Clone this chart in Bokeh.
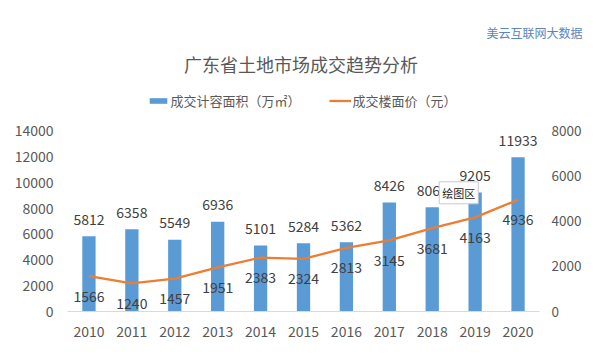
from bokeh.plotting import figure
from bokeh.models import (ColumnDataSource, Range1d, LinearAxis, FixedTicker,
                          Label, Legend, LegendItem, Title)
from bokeh.core.properties import value
from bokeh.embed import file_html
from bokeh.resources import INLINE

# ---- data ----
years = ["2010", "2011", "2012", "2013", "2014", "2015", "2016", "2017", "2018", "2019", "2020"]
area = [5812, 6358, 5549, 6936, 5101, 5284, 5362, 8426, 8060, 9205, 11933]
price = [1566, 1240, 1457, 1951, 2383, 2324, 2813, 3145, 3681, 4163, 4936]
left_ticks = [0, 2000, 4000, 6000, 8000, 10000, 12000, 14000]
right_ticks = [0, 2000, 4000, 6000, 8000]
title_text = "广东省土地市场成交趋势分析"
area_name = "成交计容面积（万㎡）"
price_name = "成交楼面价（元）"
watermark = "美云互联网大数据"
tooltip_text = "绘图区"

FONT = "Noto Sans CJK SC"
BLUE = "#5B9BD5"
ORANGE = "#ED7D31"
GREY = "#595959"
DARK = "#404040"

# layout: plot frame spans from y=FRAME_TOP to y=311; value axes occupy the lower 181 px
FRAME_TOP = 44
AXIS_PX = 181
FRAME_PX = 311 - FRAME_TOP
left_end = left_ticks[-1] * FRAME_PX / AXIS_PX
right_end = right_ticks[-1] * FRAME_PX / AXIS_PX

src = ColumnDataSource(dict(
    year=years, area=area, price=price,
    area_txt=[str(v) for v in area], price_txt=[str(v) for v in price]))

p = figure(width=584, height=341, x_range=years, y_range=Range1d(0, left_end),
           output_backend="svg", toolbar_location=None,
           min_border_left=67, min_border_right=44, min_border_top=FRAME_TOP,
           min_border_bottom=30)
p.extra_y_ranges = {"right": Range1d(0, right_end)}
p.outline_line_color = None
p.background_fill_color = "white"
p.border_fill_color = "white"
p.xgrid.grid_line_color = None
p.ygrid.grid_line_color = None

bars = p.vbar(x="year", top="area", width=0.31, source=src, color=BLUE, line_color=None)
line = p.line(x="year", y="price", source=src, color=ORANGE, line_width=2.3,
              y_range_name="right")

p.text(x="year", y="area", text="area_txt", source=src, y_offset=-17,
       text_align="center", text_baseline="middle", text_font=value(FONT),
       text_font_size="14px", text_color=DARK)
p.text(x="year", y="price", text="price_txt", source=src, y_offset=20,
       text_align="center", text_baseline="middle", text_font=value(FONT),
       text_font_size="14px", text_color=DARK, y_range_name="right")

# axes
for ax in [p.xaxis[0], p.yaxis[0]]:
    ax.major_tick_in = 0
    ax.major_tick_out = 0
    ax.minor_tick_in = 0
    ax.minor_tick_out = 0
    ax.major_label_text_font = FONT
    ax.major_label_text_font_size = "14px"
    ax.major_label_text_color = GREY
p.xaxis[0].axis_line_color = "#D9D9D9"
p.xaxis[0].major_label_standoff = 14
p.yaxis[0].axis_line_color = None
p.yaxis[0].ticker = FixedTicker(ticks=left_ticks)
p.yaxis[0].major_label_standoff = 14

rax = LinearAxis(y_range_name="right", ticker=FixedTicker(ticks=right_ticks))
rax.axis_line_color = None
rax.major_tick_in = 0
rax.major_tick_out = 0
rax.minor_tick_in = 0
rax.minor_tick_out = 0
rax.major_label_text_font = FONT
rax.major_label_text_font_size = "13.5px"
rax.major_label_text_color = GREY
rax.major_label_standoff = 12
p.add_layout(rax, "right")

# watermark in the top panel (right aligned, pushed beyond the frame edge)
p.add_layout(Title(text=watermark, align="right", offset=-43, standoff=8,
                   text_font=FONT, text_font_size="12px", text_font_style="normal",
                   text_color="#5A86BC"), "above")

# title (screen units measured from the frame's bottom-left)
p.add_layout(Label(x=233.5, y=248, x_units="screen", y_units="screen", text=title_text,
                   text_align="center", text_baseline="middle", text_font=FONT,
                   text_font_size="18px", text_color=GREY))

# legend
legend = Legend(items=[LegendItem(label=area_name, renderers=[bars]),
                       LegendItem(label=price_name, renderers=[line])],
                orientation="horizontal", location=(79.5, 201),
                glyph_width=22, glyph_height=7, label_standoff=2, spacing=28,
                padding=0, margin=0, border_line_color=None, background_fill_alpha=0,
                label_text_font=FONT, label_text_font_size="13px", label_text_color=GREY,
                label_height=16)
p.add_layout(legend, "center")

# Excel hover tooltip box
p.add_layout(Label(x=8.5, x_offset=7, x_units="data", y=118.7, y_units="screen",
                   text=tooltip_text, text_align="left", text_baseline="middle",
                   text_font=FONT, text_font_size="11px", text_color="#222222",
                   background_fill_color="white", border_line_color="#C8C8C8",
                   padding=3))

open("out.html", "w").write(file_html(p, INLINE))
